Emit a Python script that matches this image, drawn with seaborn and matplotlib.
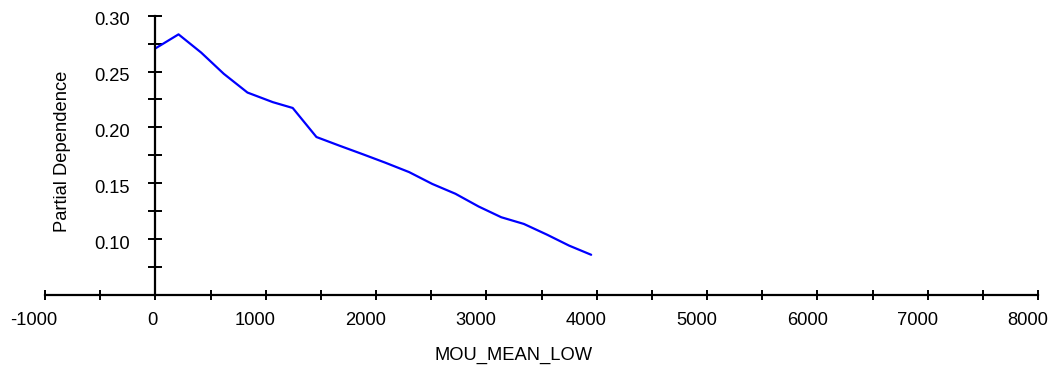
import matplotlib
matplotlib.use("Agg")
import matplotlib.pyplot as plt
import matplotlib.transforms as mtransforms
import seaborn as sns
import pandas as pd
from matplotlib.ticker import MultipleLocator, FixedLocator, FormatStrFormatter

mou_mean_low = [0, 210, 415, 620, 835, 1065, 1245, 1460, 1670, 1880, 2085,
                2300, 2510, 2720, 2930, 3135, 3340, 3550, 3750, 3950]
partial_dependence = [0.2707, 0.2833, 0.2670, 0.2480, 0.2312, 0.2226, 0.2174,
                      0.1914, 0.1836, 0.1760, 0.1684, 0.1600, 0.1494, 0.1406,
                      0.1292, 0.1196, 0.1136, 0.1040, 0.0942, 0.0860]
x_ticks = [-1000, 0, 1000, 2000, 3000, 4000, 5000, 6000, 7000, 8000]
y_ticks = [0.10, 0.15, 0.20, 0.25, 0.30]
x_label = "MOU_MEAN_LOW"
y_label = "Partial Dependence"

sns.set_style("white")
plt.rcParams["font.family"] = ["Liberation Sans", "DejaVu Sans"]
plt.rcParams["axes.unicode_minus"] = False

df = pd.DataFrame({"x": mou_mean_low, "y": partial_dependence})

FS = 13.2
fig = plt.figure(figsize=(10.52, 3.65), dpi=100)
ax = fig.add_axes([0.0428, 0.1918, 0.9439, 0.7652])
sns.lineplot(data=df, x="x", y="y", color="#0000ff", linewidth=1.6, ax=ax)

ax.set_xlim(-1000, 8000)
ax.set_ylim(0.05, 0.30)
ax.spines["top"].set_visible(False)
ax.spines["right"].set_visible(False)
ax.spines["left"].set_position(("data", 0))
for s in ("left", "bottom"):
    ax.spines[s].set_linewidth(1.6)
    ax.spines[s].set_color("black")

ax.xaxis.set_major_locator(FixedLocator(x_ticks))
ax.xaxis.set_minor_locator(MultipleLocator(500))
ax.yaxis.set_major_locator(FixedLocator(y_ticks))
ax.yaxis.set_minor_locator(MultipleLocator(0.025))
ax.xaxis.set_major_formatter(FormatStrFormatter("%d"))
ax.yaxis.set_major_formatter(FormatStrFormatter("%.2f"))

ax.tick_params(axis="both", which="both", direction="inout", color="black",
               width=1.4, labelsize=FS, labelcolor="black",
               bottom=True, left=True, top=False, right=False)
ax.tick_params(axis="x", which="both", length=7.2, pad=9)
ax.tick_params(axis="y", which="both", length=10, pad=13.5)

ax.set_xlabel("")
ax.set_ylabel("")
fig.text(62.5 / 1052, 0.585, y_label, rotation=90, fontsize=FS,
         ha="center", va="center", color="black")
fig.text(513.5 / 1052, 1 - 359.5 / 365, x_label, fontsize=FS,
         ha="center", va="baseline", color="black")

# shift tick labels to match the reference's placement
fig.canvas.draw()
renderer = fig.canvas.get_renderer()
for lbl in ax.get_xticklabels():
    w = lbl.get_window_extent(renderer).width
    off = mtransforms.ScaledTranslation(-0.25 * w / 100.0, 0, fig.dpi_scale_trans)
    lbl.set_transform(lbl.get_transform() + off)
for lbl in ax.get_yticklabels():
    off = mtransforms.ScaledTranslation(0, -3 / 100.0, fig.dpi_scale_trans)
    lbl.set_transform(lbl.get_transform() + off)

fig.savefig("out.png", dpi=100)
